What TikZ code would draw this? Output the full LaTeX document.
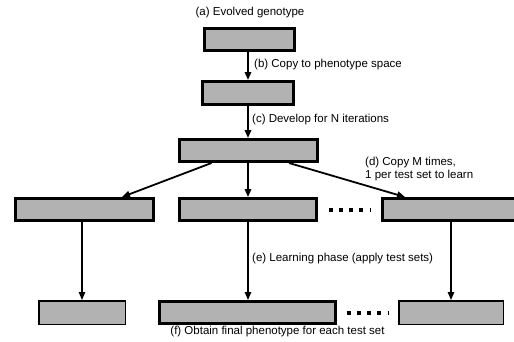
\documentclass[tikz,border=0pt]{standalone}
\usepackage{fontspec}
\setmainfont{Liberation Sans}
\usetikzlibrary{arrows.meta}

\begin{document}
\begin{tikzpicture}[x=1pt,y=-1pt,
    font=\fontsize{11.5}{13.5}\selectfont,
    box/.style={draw,fill=black!30,line width=3pt,inner sep=0pt,
      minimum width=#1,minimum height=22pt},
    thinbox/.style={draw,fill=black!30,line width=1.5pt,inner sep=0pt,
      minimum width=#1,minimum height=23.5pt},
    arr/.style={-{Triangle[length=8pt,width=6.5pt]},line width=1.8pt},
    thinarr/.style={-{Triangle[length=8pt,width=6.5pt]},line width=1.3pt},
    dots/.style={line width=4pt,dash pattern=on 4pt off 6.25pt},
    lbl/.style={anchor=west,inner sep=0pt}]
    \useasboundingbox (0,0) rectangle (514,341);
    % genotype and phenotype
    \node[box=90pt] (geno) at (249.5,39.5) {};
    \node[box=91pt,minimum height=23pt] (pheno) at (248,93) {};
    \node[box=138pt] (dev) at (248.5,150.5) {};
    % copies
    \node[box=138pt] (copyL) at (84.5,209.5) {};
    \node[box=137pt] (copyM) at (248,209.5) {};
    \node[box=137pt] (copyR) at (451,209.5) {};
    % final phenotypes
    \node[thinbox=86.5pt] (finL) at (82,312.5) {};
    \node[box=176pt] (finM) at (247.5,312.5) {};
    \node[thinbox=104.5pt] (finR) at (451,312.5) {};
    % labels
    \node (la) at (250,13) {(a) Evolved genotype};
    \node[lbl] (lb) at (254,65) {(b) Copy to phenotype space};
    \node[lbl] (lc) at (252,120) {(c) Develop for N iterations};
    \node[lbl,align=left] (ld) at (365,169) {(d) Copy M times,\\1 per test set to learn};
    \node[lbl] (le) at (252,259) {(e) Learning phase (apply test sets)};
    \node (lf) at (277.5,332) {(f) Obtain final phenotype for each test set};
    % connectors
    \draw[arr] (geno.south -| pheno.north) -- (pheno.north);
    \draw[arr] (pheno.south) -- (dev.north -| pheno.south);
    \draw[arr] ([xshift=-37pt]dev.south) -- ([xshift=37.5pt]copyL.north);
    \draw[arr] (dev.south -| copyM.north) -- (copyM.north);
    \draw[arr] ([xshift=40.5pt]dev.south) -- ([xshift=-46pt]copyR.north);
    \draw[thinarr] (copyL.south -| finL.north) -- (finL.north);
    \draw[thinarr] (copyM.south) -- (finM.north -| copyM.south);
    \draw[thinarr] (copyR.south) -- (finR.north);
    \draw[dots] ([xshift=10.5pt]copyM.east) -- ([xshift=-10.5pt]copyR.west);
    \draw[dots] ([xshift=9.5pt]finM.east) -- ([xshift=-8.75pt]finR.west);
\end{tikzpicture}
\end{document}
